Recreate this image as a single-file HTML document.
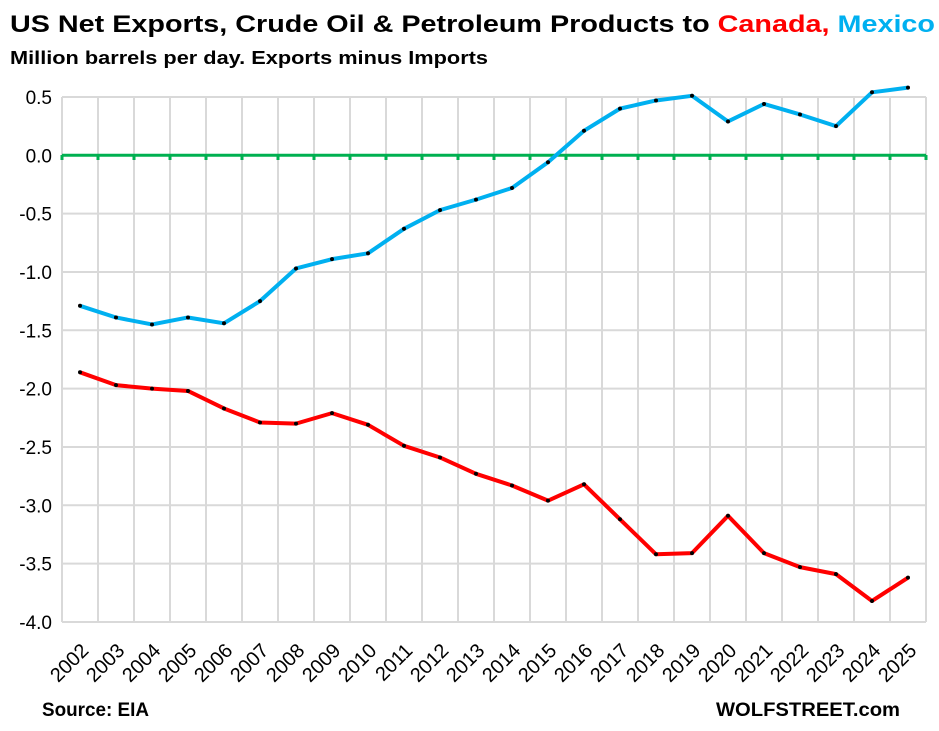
<!DOCTYPE html><html><head><style>body{margin:0;background:#fff}svg{display:block}</style></head><body>
<svg id="s" width="939" height="731" xmlns="http://www.w3.org/2000/svg" font-family="Liberation Sans, sans-serif">
<text x="10" y="32" font-size="24" font-weight="bold" textLength="925" lengthAdjust="spacingAndGlyphs">US Net Exports, Crude Oil &amp; Petroleum Products to <tspan fill="#ff0000">Canada,</tspan> <tspan fill="#00b0f0">Mexico</tspan></text>
<text x="10" y="64" font-size="18" font-weight="bold" textLength="478" lengthAdjust="spacingAndGlyphs">Million barrels per day. Exports minus Imports</text>
<text x="42" y="716" font-size="19" font-weight="bold" textLength="107" lengthAdjust="spacingAndGlyphs">Source: EIA</text>
<text x="716" y="716" font-size="19" font-weight="bold" textLength="184" lengthAdjust="spacingAndGlyphs">WOLFSTREET.com</text>
<g id="g"></g>
</svg>
<script>
const g=document.getElementById('g');let h='';
const Y=v=>155.3-v*116.67, X=i=>80+i*36;
for(let i=0;i<=24;i++)h+=`<line x1="${62+i*36}" y1="97" x2="${62+i*36}" y2="622" stroke="#d9d9d9" stroke-width="2"/>`;
for(let k=1;k>=-8;k--){const v=k/2,y=Y(v);if(k!==0)h+=`<line x1="62" y1="${y}" x2="926" y2="${y}" stroke="#d9d9d9" stroke-width="2"/>`;
h+=`<text x="52" y="${y+7}" font-size="19" text-anchor="end">${v.toFixed(1)}</text>`;}
h+=`<line x1="62" y1="155.3" x2="926" y2="155.3" stroke="#00b050" stroke-width="3"/>`;
for(let i=0;i<=24;i++)h+=`<line x1="${62+i*36}" y1="155" x2="${62+i*36}" y2="160" stroke="#00b050" stroke-width="3"/>`;
const m=[-1.29,-1.39,-1.45,-1.39,-1.44,-1.25,-0.97,-0.89,-0.84,-0.63,-0.47,-0.38,-0.28,-0.06,0.21,0.40,0.47,0.51,0.29,0.44,0.35,0.25,0.54,0.58];
const c=[-1.86,-1.97,-2.0,-2.02,-2.17,-2.29,-2.30,-2.21,-2.31,-2.49,-2.59,-2.73,-2.83,-2.96,-2.82,-3.12,-3.42,-3.41,-3.09,-3.41,-3.53,-3.59,-3.82,-3.62];
[[m,'#00b0f0'],[c,'#ff0000']].forEach(([d,col])=>{h+=`<polyline fill="none" stroke="${col}" stroke-width="4" stroke-linejoin="round" points="${d.map((v,i)=>X(i)+','+Y(v)).join(' ')}"/>`;
d.forEach((v,i)=>h+=`<circle cx="${X(i)}" cy="${Y(v)}" r="2" fill="#000"/>`);});
for(let i=0;i<24;i++){const x=X(i)+6,y=648;h+=`<text transform="translate(${x},${y}) rotate(-45)" font-size="20" text-anchor="end" dominant-baseline="middle">${2002+i}</text>`;}
g.innerHTML=h;
</script>
</body></html>
